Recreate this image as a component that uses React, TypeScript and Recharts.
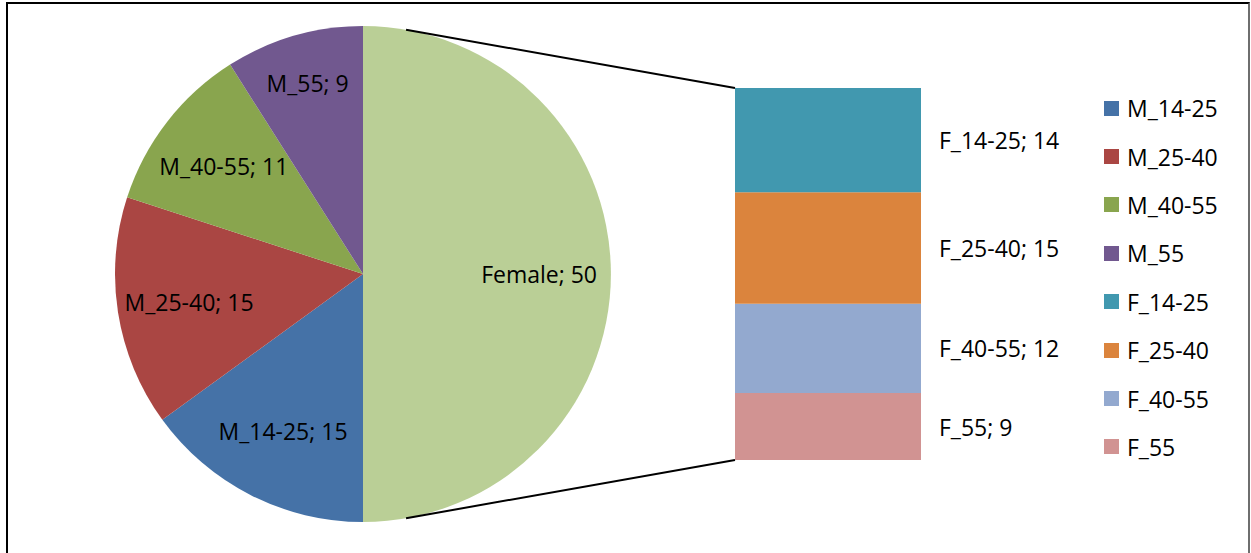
import React from 'react';
import { PieChart, Pie, Cell, BarChart, Bar, XAxis, YAxis, LabelList, Legend } from 'recharts';

const pieNames = ['Female', 'M_14-25', 'M_25-40', 'M_40-55', 'M_55'];
const pieValues = [50, 15, 15, 11, 9];
const pieColors = ['#BACF96', '#4572A7', '#AA4643', '#89A54E', '#71588F'];

const barNames = ['F_14-25', 'F_25-40', 'F_40-55', 'F_55'];
const barValues = [14, 15, 12, 9];
const barColors = ['#4198AF', '#DB843D', '#93A9CF', '#D19392'];

const legendNames = ['M_14-25', 'M_25-40', 'M_40-55', 'M_55', 'F_14-25', 'F_25-40', 'F_40-55', 'F_55'];
const legendColors = ['#4572A7', '#AA4643', '#89A54E', '#71588F', '#4198AF', '#DB843D', '#93A9CF', '#D19392'];

const FONT = '"Open Sans", Lato, sans-serif';
const FS = 23;
const RADIAN = Math.PI / 180;

// layout
const CX = 363;
const CY = 274;
const R = 248;
const BAR_X = 735;
const BAR_Y = 88;
const BAR_W = 186;
const BAR_H = 372;
const LINK_ANGLE = 10; // degrees from vertical where the connector leaves the pie

const pieData = pieNames.map((name, i) => ({ name, value: pieValues[i] }));
const barRow: Record<string, number | string> = { name: 'Female' };
barNames.forEach((n, i) => { barRow[n] = barValues[i]; });
const barTotal = barValues.reduce((a, b) => a + b, 0);

function pieLabel(props: any) {
  const { cx, cy, midAngle, outerRadius, name, value, percent } = props;
  // narrow slices get their label pushed outward, like Excel's best fit
  const r = outerRadius * (percent < 0.1 ? 0.8 : 0.71);
  const x = cx + r * Math.cos(-midAngle * RADIAN);
  const y = cy + r * Math.sin(-midAngle * RADIAN);
  return (
    <text x={x} y={y} fill="#000" textAnchor="middle" dominantBaseline="central"
      style={{ fontFamily: FONT, fontSize: FS }}>
      {`${name}; ${value}`}
    </text>
  );
}

function LegendBox() {
  return (
    <div style={{ fontFamily: FONT, fontSize: FS, color: '#000' }}>
      {legendNames.map((n, i) => (
        <div key={n} style={{ display: 'flex', alignItems: 'center', height: 48.4 }}>
          <span style={{ width: 15, height: 15, background: legendColors[i], marginRight: 8, display: 'inline-block', flexShrink: 0 }} />
          <span>{n}</span>
        </div>
      ))}
    </div>
  );
}

export default function App() {
  const ta = LINK_ANGLE * RADIAN;
  const topStart = { x: CX + R * Math.sin(ta), y: CY - R * Math.cos(ta) };
  const botStart = { x: CX + R * Math.sin(ta), y: CY + R * Math.cos(ta) };

  return (
    <div style={{ position: 'absolute', left: 0, top: 0, width: 1251, height: 553, overflow: 'hidden', background: '#fff' }}>
      <div style={{ position: 'absolute', left: 6, top: 2, width: 1240, height: 600, borderLeft: '2px solid #000', borderTop: '2px solid #000', borderRight: '2px solid #6e6e6e' }} />
      <div style={{ position: 'absolute', left: 0, top: 0 }}>
        <PieChart width={1251} height={553} margin={{ top: 0, right: 0, bottom: 0, left: 0 }}>
          <Pie
            data={pieData}
            dataKey="value"
            nameKey="name"
            cx={CX}
            cy={CY}
            outerRadius={R}
            startAngle={90}
            endAngle={-270}
            stroke="none"
            labelLine={false}
            label={pieLabel}
            isAnimationActive={false}
          >
            {pieData.map((d, i) => (
              <Cell key={d.name} fill={pieColors[i]} />
            ))}
          </Pie>
          <Legend
            content={() => <LegendBox />}
            wrapperStyle={{ position: 'absolute', left: 1104, top: 84, width: 146 }}
          />
        </PieChart>
      </div>
      <div style={{ position: 'absolute', left: BAR_X, top: BAR_Y }}>
        <BarChart width={BAR_W + 200} height={BAR_H} data={[barRow]}
          margin={{ top: 0, right: 200, bottom: 0, left: 0 }} barCategoryGap={0}>
          <XAxis dataKey="name" hide />
          <YAxis hide domain={[0, barTotal]} />
          {[...barNames].reverse().map((n) => {
            const i = barNames.indexOf(n);
            return (
              <Bar key={n} dataKey={n} stackId="f" fill={barColors[i]} isAnimationActive={false}>
                <LabelList
                  dataKey={n}
                  content={(p: any) => (
                    <text x={p.x + p.width + 18} y={p.y + p.height / 2} fill="#000"
                      dominantBaseline="central" style={{ fontFamily: FONT, fontSize: FS }}>
                      {`${n}; ${p.value}`}
                    </text>
                  )}
                />
              </Bar>
            );
          })}
        </BarChart>
      </div>
      <svg width={1251} height={553} style={{ position: 'absolute', left: 0, top: 0, pointerEvents: 'none' }}>
        <line x1={topStart.x} y1={topStart.y} x2={BAR_X} y2={BAR_Y} stroke="#000" strokeWidth={2} />
        <line x1={botStart.x} y1={botStart.y} x2={BAR_X} y2={BAR_Y + BAR_H} stroke="#000" strokeWidth={2} />
      </svg>
    </div>
  );
}
